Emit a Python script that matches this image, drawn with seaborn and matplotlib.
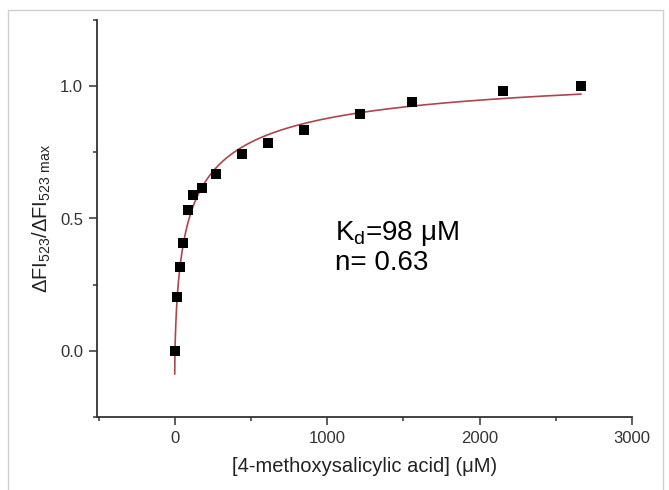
import numpy as np
import pandas as pd
import matplotlib
matplotlib.use("Agg")
from matplotlib import pyplot as plt
from matplotlib.ticker import MultipleLocator
from matplotlib.patches import Rectangle
import seaborn as sns

# titration data
conc = [0, 18, 33, 55, 88, 123, 182, 269, 442, 615, 846, 1215, 1558, 2156, 2666]
signal = [0.0, 0.203, 0.316, 0.409, 0.532, 0.589, 0.616, 0.668, 0.744, 0.784,
          0.836, 0.893, 0.941, 0.981, 1.0]

# Hill fit parameters
kd = 98
n_hill = 0.63
y0 = -0.088
amp = 1.19
fit_end = 2666

x_ticks = [0, 1000, 2000, 3000]
y_ticks = [0.0, 0.5, 1.0]

df = pd.DataFrame({"conc": conc, "signal": signal})
xs = np.concatenate([[0], np.geomspace(0.01, fit_end, 800)])
fit = pd.DataFrame({"conc": xs,
                    "signal": y0 + amp * xs**n_hill / (kd**n_hill + xs**n_hill)})

sns.set_theme(style="ticks")
plt.rcParams['font.family'] = ['Liberation Sans', 'DejaVu Sans']
plt.rcParams['mathtext.default'] = 'regular'

fig = plt.figure(figsize=(6.69, 4.90), dpi=100)
ax = fig.add_axes([97 / 669, 73 / 490, 535 / 669, 397 / 490])

sns.lineplot(data=fit, x="conc", y="signal", ax=ax, color="#ad464c",
             linewidth=1.2, sort=False, estimator=None)
sns.scatterplot(data=df, x="conc", y="signal", ax=ax, marker="s", s=60,
                color="black", edgecolor="black", linewidth=0, zorder=3)

ax.set_xlim(-510, 3000)
ax.set_ylim(-0.25, 1.25)
ax.set_xticks(x_ticks)
ax.set_yticks(y_ticks)
ax.set_yticklabels([f"{v:.1f}" for v in y_ticks])
ax.xaxis.set_minor_locator(MultipleLocator(500))
ax.yaxis.set_minor_locator(MultipleLocator(0.25))
ax.tick_params(which="major", length=6, width=1.1, color="#333333",
               labelsize=12, labelcolor="#333333", pad=4)
ax.tick_params(which="minor", length=3, width=1.1, color="#333333")
sns.despine(ax=ax)
for s in ["left", "bottom"]:
    ax.spines[s].set_color("#333333")
    ax.spines[s].set_linewidth(1.3)

ax.set_xlabel("[4-methoxysalicylic acid] (μM)", fontsize=14.5, color="#222222",
              labelpad=8)
ax.set_ylabel("ΔFI$_{523}$/ΔFI$_{523\\ max}$", fontsize=14.5, color="#222222",
              labelpad=5)

ax.text(1050, 0.444, "K$_{d}$=98 μM", fontsize=20, color="black",
        va="center", ha="left")
ax.text(1050, 0.33, "n= 0.63", fontsize=20, color="black",
        va="center", ha="left")

fig.add_artist(Rectangle((8 / 669, -0.01), 655 / 669, 1.01 - 10 / 490,
                         transform=fig.transFigure, fill=False,
                         edgecolor="#cfcfcf", linewidth=1))

fig.savefig("out.png", dpi=100, facecolor="white")
